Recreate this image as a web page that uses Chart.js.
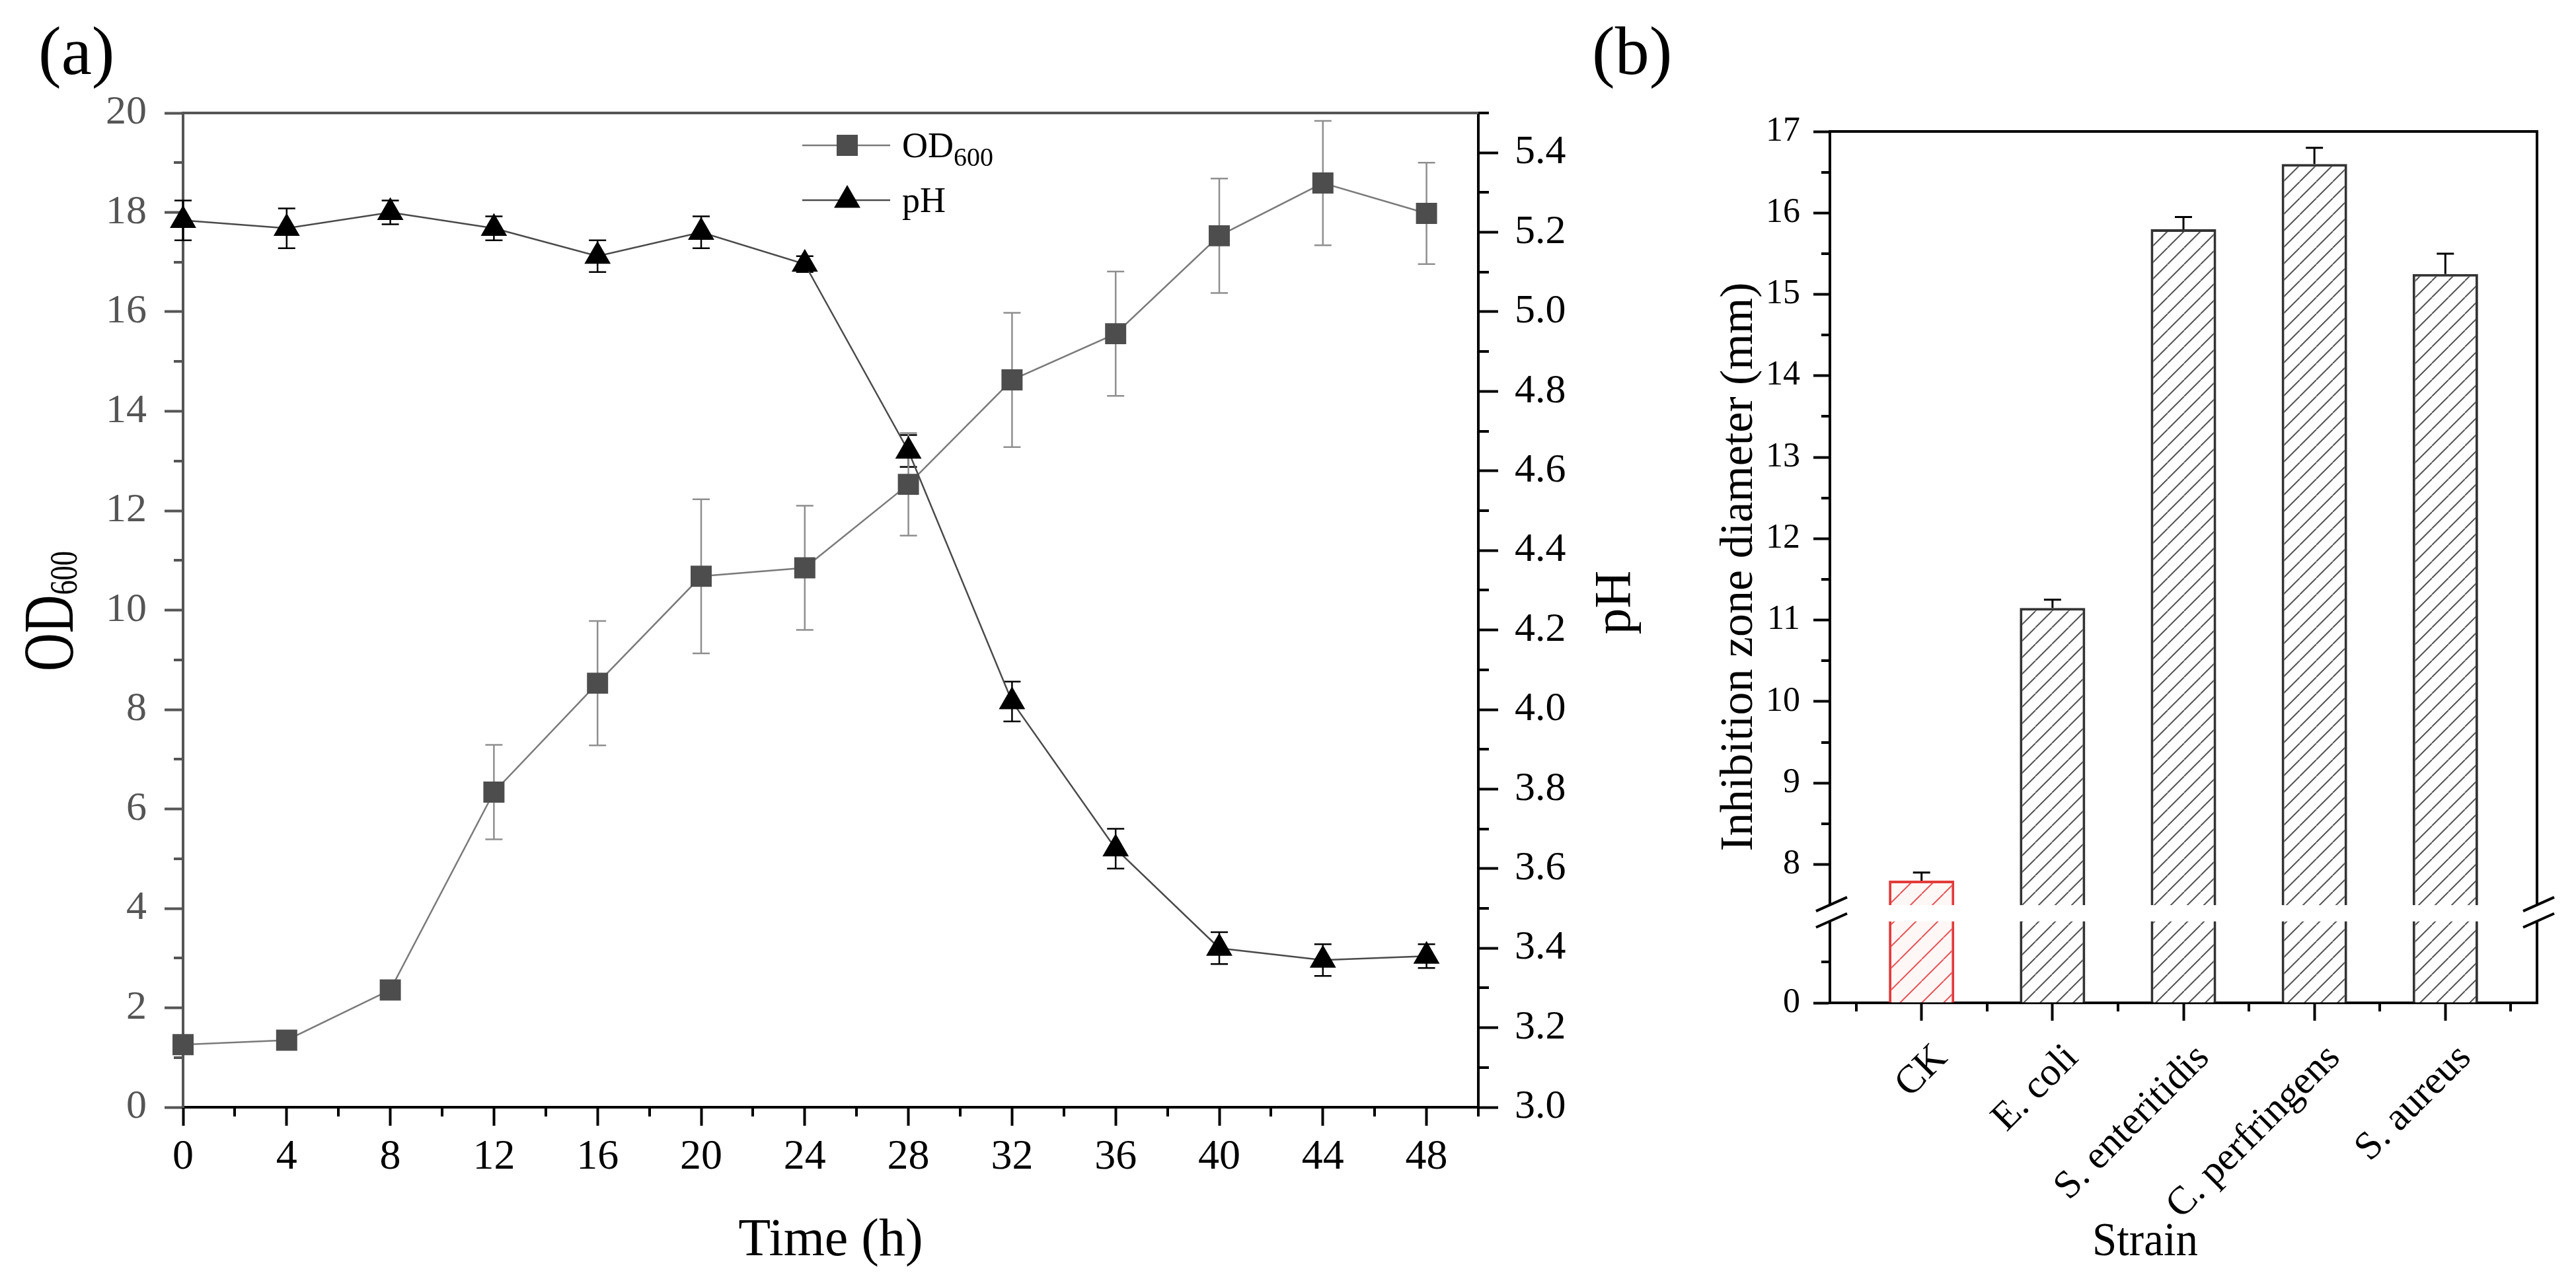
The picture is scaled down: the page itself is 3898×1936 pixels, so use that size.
<!DOCTYPE html>
<html>
<head>
<meta charset="utf-8">
<title>OD600 / pH and inhibition zones</title>
<script src="https://cdn.jsdelivr.net/npm/chart.js@4.4.1/dist/chart.umd.min.js"></script>
<style>
  html, body { margin: 0; padding: 0; background: #fff; }
  #wrap { position: relative; width: 3898px; height: 1936px; overflow: hidden; }
  canvas { position: absolute; top: 0; }
  #growth { left: 0; }
  #zone { left: 2380px; }
</style>
</head>
<body>
<div id="wrap">
  <canvas id="growth" width="2530" height="1936"></canvas>
  <canvas id="zone" width="1518" height="1936"></canvas>
</div>
<script>
// panel (a): growth curve
const hours = [0, 4, 8, 12, 16, 20, 24, 28, 32, 36, 40, 44, 48];
const od600 = [1.26, 1.35, 2.36, 6.34, 8.53, 10.68, 10.85, 12.53, 14.63, 15.56, 17.53, 18.59, 17.98];
const od600Err = [0.1, 0.08, 0.1, 0.95, 1.25, 1.55, 1.25, 1.03, 1.35, 1.25, 1.15, 1.25, 1.02];
const pH = [5.23, 5.21, 5.25, 5.21, 5.14, 5.2, 5.12, 4.65, 4.02, 3.65, 3.4, 3.37, 3.38];
const pHErr = [0.05, 0.05, 0.03, 0.03, 0.04, 0.04, 0.02, 0.04, 0.05, 0.05, 0.04, 0.04, 0.03];

const timeTicks = [0, 4, 8, 12, 16, 20, 24, 28, 32, 36, 40, 44, 48];
const timeMinor = [2, 6, 10, 14, 18, 22, 26, 30, 34, 38, 42, 46, 50];
const odTicks = [0, 2, 4, 6, 8, 10, 12, 14, 16, 18, 20];
const odMinor = [1, 3, 5, 7, 9, 11, 13, 15, 17, 19];
const phTicks = [3.0, 3.2, 3.4, 3.6, 3.8, 4.0, 4.2, 4.4, 4.6, 4.8, 5.0, 5.2, 5.4];
const phMinor = [3.1, 3.3, 3.5, 3.7, 3.9, 4.1, 4.3, 4.5, 4.7, 4.9, 5.1, 5.3, 5.5];

// panel (b): inhibition zones
const strains = ['CK', 'E. coli', 'S. enteritidis', 'C. perfringens', 'S. aureus'];
const zoneMm = [7.8, 11.15, 15.8, 16.6, 15.25];
const zoneErr = [0.1, 0.1, 0.15, 0.2, 0.25];

const zoneTicks = [0, 8, 9, 10, 11, 12, 13, 14, 15, 16, 17];
const zoneMinor = [0.5, 8.5, 9.5, 10.5, 11.5, 12.5, 13.5, 14.5, 15.5, 16.5];
const strainTicks = [1, 2, 3, 4, 5];
const strainMinor = [0.5, 1.5, 2.5, 3.5, 4.5, 5.5];

// the y axis of (b) jumps from 1 to 7.5
const zoneBreak = {from: 1, to: 7.5, gap: 0.2};

const serif = '"Liberation Serif", "Times New Roman", serif';
const B_LEFT = 2380;
Chart.defaults.font.family = serif;
Chart.defaults.color = '#000';

class BrokenLinearScale extends Chart.LinearScale {
  static id = 'brokenLinear';
  static defaults = Chart.LinearScale.defaults;

  toUnit(v) {
    const b = zoneBreak;
    if (v <= b.from) return v;
    if (v >= b.to) return v - (b.to - b.from) + b.gap;
    return b.from + (v - b.from) / (b.to - b.from) * b.gap;
  }

  getPixelForValue(value) {
    if (value === null || isNaN(value)) return NaN;
    const lo = this.toUnit(this.min), hi = this.toUnit(this.max);
    return this.getPixelForDecimal((this.toUnit(value) - lo) / (hi - lo));
  }

  getValueForPixel(pixel) {
    const lo = this.toUnit(this.min), hi = this.toUnit(this.max);
    const u = lo + this.getDecimalForPixel(pixel) * (hi - lo);
    const b = zoneBreak;
    if (u <= b.from) return u;
    if (u >= b.from + b.gap) return u + (b.to - b.from) - b.gap;
    return b.from + (u - b.from) / b.gap * (b.to - b.from);
  }
}
Chart.register(BrokenLinearScale);

const setTicks = (values) => (scale) => {
  scale.ticks = values.map(v => ({value: v}));
};

const drawText = (ctx, parts, x, y, opts = {}) => {
  ctx.save();
  ctx.translate(x, y);
  if (opts.rotate) ctx.rotate(opts.rotate);
  ctx.scale(opts.condense || 1, 1);
  ctx.fillStyle = opts.color || '#000';
  ctx.textBaseline = 'alphabetic';
  ctx.textAlign = 'left';
  let total = 0;
  parts.forEach(p => {
    ctx.font = p.size + 'px ' + serif;
    p.w = ctx.measureText(p.text).width;
    total += p.w;
  });
  let cx = opts.align === 'center' ? -total / 2 : 0;
  parts.forEach(p => {
    ctx.font = p.size + 'px ' + serif;
    ctx.fillText(p.text, cx, p.dy || 0);
    cx += p.w;
  });
  ctx.restore();
};

const minorTicks = (spec) => ({
  id: 'minorTicks',
  afterDraw(chart) {
    const {ctx} = chart;
    ctx.save();
    spec.forEach(({axis, values, length, color}) => {
      const s = chart.scales[axis];
      ctx.strokeStyle = color;
      ctx.lineWidth = 4;
      ctx.beginPath();
      values.forEach(v => {
        const p = Math.round(s.getPixelForValue(v));
        if (s.position === 'left') {
          ctx.moveTo(s.right, p); ctx.lineTo(s.right - length, p);
        } else if (s.position === 'right') {
          ctx.moveTo(s.left, p); ctx.lineTo(s.left + length, p);
        } else {
          ctx.moveTo(p, s.top); ctx.lineTo(p, s.top + length);
        }
      });
      ctx.stroke();
    });
    ctx.restore();
  }
});

const growthDecor = {
  id: 'growthDecor',
  beforeDatasetsDraw(chart) {
    const {ctx, chartArea: a} = chart;
    ctx.save();
    // top frame
    ctx.strokeStyle = '#555';
    ctx.lineWidth = 4;
    ctx.beginPath();
    ctx.moveTo(a.left - 2, a.top);
    ctx.lineTo(a.right + 2, a.top);
    ctx.stroke();
    // error bars, under the markers
    chart.data.datasets.forEach((ds, i) => {
      const meta = chart.getDatasetMeta(i);
      const scale = chart.scales[ds.yAxisID];
      ctx.strokeStyle = ds.errorColor;
      ctx.lineWidth = 2.5;
      ctx.beginPath();
      meta.data.forEach((pt, j) => {
        const v = ds.data[j].y, e = ds.errors[j];
        const top = scale.getPixelForValue(v + e);
        const bot = scale.getPixelForValue(v - e);
        ctx.moveTo(pt.x, top); ctx.lineTo(pt.x, bot);
        ctx.moveTo(pt.x - 13, top); ctx.lineTo(pt.x + 13, top);
        ctx.moveTo(pt.x - 13, bot); ctx.lineTo(pt.x + 13, bot);
      });
      ctx.stroke();
    });
    ctx.restore();
  },
  afterDraw(chart) {
    const {ctx} = chart;
    // axis titles and panel letter
    drawText(ctx, [{text: 'OD', size: 108}, {text: '600', size: 60, dy: 6}], 110, 925,
      {rotate: -Math.PI / 2, align: 'center', condense: 0.74});
    drawText(ctx, [{text: 'pH', size: 79}], 2466, 912, {rotate: -Math.PI / 2, align: 'center'});
    drawText(ctx, [{text: 'Time (h)', size: 80}], 1257, 1900, {align: 'center'});
    drawText(ctx, [{text: '(a)', size: 104}], 58, 112);

    // legend: line with marker in the middle
    const rows = [
      {ds: chart.data.datasets[1], y: 220, parts: [{text: 'OD', size: 54}, {text: '600', size: 40, dy: 13}]},
      {ds: chart.data.datasets[0], y: 303, parts: [{text: 'pH', size: 54}]}
    ];
    ctx.save();
    rows.forEach(r => {
      ctx.strokeStyle = r.ds.borderColor;
      ctx.lineWidth = 2.5;
      ctx.beginPath();
      ctx.moveTo(1214, r.y); ctx.lineTo(1347, r.y);
      ctx.stroke();
      ctx.fillStyle = r.ds.pointBackgroundColor;
      Chart.helpers.drawPoint(ctx, {pointStyle: r.ds.pointStyle, radius: r.ds.pointRadius, rotation: 0, borderWidth: 0}, 1282, r.y);
      drawText(ctx, r.parts, 1365, r.y + 18);
    });
    ctx.restore();
  }
};

new Chart(document.getElementById('growth'), {
  type: 'line',
  data: {
    datasets: [
      {
        label: 'pH',
        yAxisID: 'yPh',
        data: hours.map((h, i) => ({x: h, y: pH[i]})),
        errors: pHErr,
        errorColor: '#000',
        borderColor: '#4a4a4a',
        borderWidth: 2.5,
        pointStyle: 'triangle',
        pointRadius: 23,
        pointBackgroundColor: '#000',
        pointBorderWidth: 0,
        clip: false,
        order: 0
      },
      {
        label: 'OD600',
        yAxisID: 'yOd',
        data: hours.map((h, i) => ({x: h, y: od600[i]})),
        errors: od600Err,
        errorColor: '#8f8f8f',
        borderColor: '#7a7a7a',
        borderWidth: 2.5,
        pointStyle: 'rect',
        pointRadius: 22.6,
        pointBackgroundColor: '#4d4d4d',
        pointBorderWidth: 0,
        clip: false,
        order: 1
      }
    ]
  },
  options: {
    responsive: false,
    animation: false,
    devicePixelRatio: 1,
    events: [],
    layout: {padding: {top: 171, left: 0, right: 0, bottom: 0}},
    plugins: {legend: {display: false}, tooltip: {enabled: false}},
    scales: {
      x: {
        type: 'linear', min: 0, max: 50,
        afterBuildTicks: setTicks(timeTicks),
        afterFit: (s) => { s.height = 260; },
        grid: {drawOnChartArea: false, tickLength: 28, tickWidth: 4, tickColor: '#000'},
        border: {color: '#000', width: 4},
        ticks: {font: {size: 64}, color: '#000', padding: 10, maxRotation: 0, autoSkip: false}
      },
      yOd: {
        type: 'linear', position: 'left', min: 0, max: 20,
        afterBuildTicks: setTicks(odTicks),
        afterFit: (s) => { s.width = 277; },
        grid: {drawOnChartArea: false, tickLength: 28, tickWidth: 4, tickColor: '#555'},
        border: {color: '#555', width: 4},
        ticks: {font: {size: 62}, color: '#555', padding: 27, autoSkip: false}
      },
      yPh: {
        type: 'linear', position: 'right', min: 3, max: 5.5,
        afterBuildTicks: setTicks(phTicks),
        afterFit: (s) => { s.width = 293; },
        grid: {drawOnChartArea: false, tickLength: 30, tickWidth: 4, tickColor: '#000'},
        border: {color: '#000', width: 4},
        ticks: {font: {size: 62}, color: '#000', padding: 25, autoSkip: false,
          callback: (v) => Number(v).toFixed(1)}
      }
    }
  },
  plugins: [
    growthDecor,
    minorTicks([
      {axis: 'x', values: timeMinor, length: 14, color: '#000'},
      {axis: 'yOd', values: odMinor, length: 14, color: '#555'},
      {axis: 'yPh', values: phMinor, length: 16, color: '#000'}
    ])
  ]
});

// hatch fills for the bars
const hatch = (color, bg, step, width) => {
  const c = document.createElement('canvas');
  c.width = c.height = step;
  const g = c.getContext('2d');
  g.fillStyle = bg;
  g.fillRect(0, 0, step, step);
  g.strokeStyle = color;
  g.lineWidth = width;
  g.beginPath();
  [-1, 0, 1].forEach(k => {
    g.moveTo(k * step, step);
    g.lineTo(k * step + step, 0);
  });
  g.stroke();
  return g.createPattern(c, 'repeat');
};
const greyHatch = hatch('#555', '#fff', 25, 2);
const redHatch = hatch('#e5585a', '#fff6f6', 33, 2);

const zoneDecor = {
  id: 'zoneDecor',
  beforeDatasetsDraw(chart) {
    const {ctx, chartArea: a} = chart;
    ctx.save();
    ctx.strokeStyle = '#000';
    ctx.lineWidth = 4;
    ctx.beginPath();
    ctx.moveTo(a.left - 2, a.top);
    ctx.lineTo(a.right, a.top);
    ctx.lineTo(a.right, a.bottom + 2);
    ctx.stroke();
    ctx.restore();
  },
  afterDatasetsDraw(chart) {
    const {ctx, chartArea: a} = chart;
    const y = chart.scales.y;
    const top = y.getPixelForValue(zoneBreak.to);
    const bot = y.getPixelForValue(zoneBreak.from);
    ctx.save();
    // white band through the bars and the axes at the break
    ctx.fillStyle = '#fff';
    ctx.fillRect(a.left - 8, top, a.right - a.left + 16, bot - top);
    ctx.strokeStyle = '#000';
    ctx.lineWidth = 4;
    ctx.beginPath();
    [a.left, a.right].forEach(ax => {
      ctx.moveTo(ax - 21, top + 9); ctx.lineTo(ax + 26, top - 12);
      ctx.moveTo(ax - 21, bot + 9); ctx.lineTo(ax + 26, bot - 12);
    });
    ctx.stroke();
    // upper error bars
    const meta = chart.getDatasetMeta(0);
    ctx.lineWidth = 3;
    ctx.beginPath();
    meta.data.forEach((bar, j) => {
      const t = y.getPixelForValue(zoneMm[j] + zoneErr[j]);
      ctx.moveTo(bar.x, bar.y); ctx.lineTo(bar.x, t);
      ctx.moveTo(bar.x - 13, t); ctx.lineTo(bar.x + 13, t);
    });
    ctx.stroke();
    ctx.restore();
  },
  afterDraw(chart) {
    const {ctx} = chart;
    drawText(ctx, [{text: '(b)', size: 104}], 2409 - B_LEFT, 112);
    drawText(ctx, [{text: 'Inhibition zone diameter (mm)', size: 70}], 2651 - B_LEFT, 858,
      {rotate: -Math.PI / 2, align: 'center'});
    drawText(ctx, [{text: 'Strain', size: 72}], 3246 - B_LEFT, 1900, {align: 'center', condense: 0.93});
  }
};

new Chart(document.getElementById('zone'), {
  type: 'bar',
  data: {
    datasets: [{
      label: 'Inhibition zone diameter',
      data: strains.map((s, i) => ({x: i + 1, y: zoneMm[i]})),
      backgroundColor: strains.map((s, i) => i === 0 ? redHatch : greyHatch),
      borderColor: strains.map((s, i) => i === 0 ? '#e23b3b' : '#333'),
      borderWidth: 4,
      borderSkipped: 'bottom',
      categoryPercentage: 1,
      barPercentage: 0.5
    }]
  },
  options: {
    responsive: false,
    animation: false,
    devicePixelRatio: 1,
    events: [],
    layout: {padding: {top: 199, left: 0, right: 59, bottom: 0}},
    plugins: {legend: {display: false}, tooltip: {enabled: false}},
    scales: {
      x: {
        type: 'linear', min: 0.3, max: 5.7, offset: false,
        afterBuildTicks: setTicks(strainTicks),
        afterFit: (s) => { s.height = 418; },
        grid: {offset: false, drawOnChartArea: false, tickLength: 27, tickWidth: 4, tickColor: '#000'},
        border: {color: '#000', width: 4},
        ticks: {font: {size: 60}, color: '#000', padding: 22, labelOffset: 30,
          minRotation: 45, maxRotation: 45, autoSkip: false,
          callback: (v) => strains[Math.round(v) - 1]}
      },
      y: {
        type: 'brokenLinear', min: 0, max: 17,
        afterBuildTicks: setTicks(zoneTicks),
        afterFit: (s) => { s.width = 2769 - B_LEFT; },
        grid: {drawOnChartArea: false, tickLength: 25, tickWidth: 4, tickColor: '#000'},
        border: {color: '#000', width: 4},
        ticks: {font: {size: 52}, color: '#000', padding: 20, autoSkip: false}
      }
    }
  },
  plugins: [
    zoneDecor,
    minorTicks([
      {axis: 'x', values: strainMinor, length: 13, color: '#000'},
      {axis: 'y', values: zoneMinor, length: 13, color: '#000'}
    ])
  ]
});
</script>
</body>
</html>
